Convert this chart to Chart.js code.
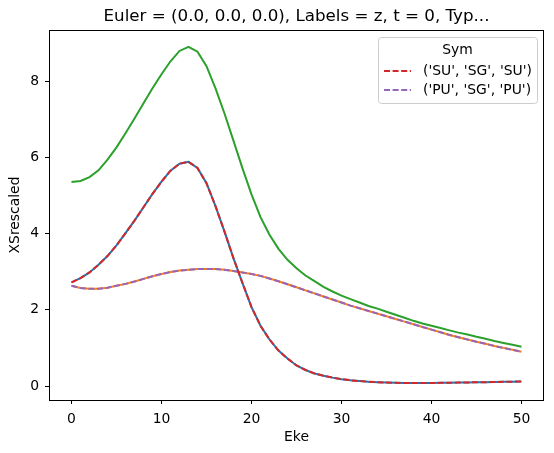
<!DOCTYPE html>
<html>
<head>
<meta charset="utf-8">
<script src="https://cdn.jsdelivr.net/npm/chart.js@4.4.0/dist/chart.umd.min.js"></script>
<style>
  html, body { margin: 0; padding: 0; background: #fff; }
  #wrap { width: 554px; height: 453px; }
</style>
</head>
<body>
<div id="wrap"><canvas id="chart"></canvas></div>
<script>
const eke = [0, 1, 2, 3, 4, 5, 6, 7, 8, 9, 10, 11, 12, 13, 14, 15, 16, 17, 18, 19, 20,
    21, 22, 23, 24, 25, 26, 27, 28, 29, 30, 31, 32, 33, 34, 35, 36, 37, 38, 39, 40,
    41, 42, 43, 44, 45, 46, 47, 48, 49, 50];

// green solid line
const xsTotal = [5.35, 5.38, 5.48, 5.66, 5.94, 6.26, 6.63, 7.02, 7.42, 7.81, 8.18,
    8.52, 8.79, 8.90, 8.77, 8.39, 7.81, 7.15, 6.43, 5.71, 5.03,
    4.43, 3.97, 3.60, 3.31, 3.09, 2.90, 2.75, 2.60, 2.48, 2.37,
    2.28, 2.19, 2.10, 2.03, 1.95, 1.87, 1.79, 1.71, 1.64, 1.58,
    1.52, 1.46, 1.40, 1.35, 1.29, 1.24, 1.18, 1.13, 1.08, 1.03];

// ('SU', 'SG', 'SU') - red dashed, blue solid underneath
const xsSU = [2.72, 2.83, 2.98, 3.18, 3.41, 3.69, 4.01, 4.34, 4.69, 5.04, 5.36,
    5.65, 5.83, 5.88, 5.72, 5.32, 4.72, 4.05, 3.35, 2.70, 2.07,
    1.58, 1.22, 0.93, 0.72, 0.54, 0.42, 0.33, 0.27, 0.22, 0.18,
    0.15, 0.13, 0.11, 0.10, 0.09, 0.085, 0.08, 0.078, 0.078, 0.08,
    0.083, 0.086, 0.09, 0.094, 0.098, 0.10, 0.105, 0.11, 0.115, 0.12];
const xsSUBase = [2.72, 2.83, 2.98, 3.18, 3.41, 3.69, 4.01, 4.34, 4.69, 5.04, 5.36,
    5.65, 5.83, 5.88, 5.72, 5.32, 4.72, 4.05, 3.35, 2.70, 2.07,
    1.58, 1.22, 0.93, 0.72, 0.54, 0.42, 0.33, 0.27, 0.22, 0.18,
    0.15, 0.13, 0.11, 0.10, 0.09, 0.085, 0.08, 0.078, 0.078, 0.08,
    0.083, 0.086, 0.09, 0.094, 0.098, 0.10, 0.105, 0.11, 0.115, 0.12];

// ('PU', 'SG', 'PU') - purple dashed, orange solid underneath
const xsPU = [2.63, 2.57, 2.55, 2.55, 2.58, 2.63, 2.68, 2.74, 2.81, 2.88, 2.94,
    2.99, 3.03, 3.05, 3.07, 3.07, 3.07, 3.05, 3.02, 2.98, 2.94,
    2.89, 2.82, 2.75, 2.67, 2.59, 2.51, 2.43, 2.35, 2.27, 2.19,
    2.11, 2.04, 1.97, 1.90, 1.83, 1.76, 1.69, 1.62, 1.55, 1.48,
    1.41, 1.34, 1.28, 1.22, 1.16, 1.11, 1.05, 1.00, 0.95, 0.90];
const xsPUBase = [2.63, 2.57, 2.55, 2.55, 2.58, 2.63, 2.68, 2.74, 2.81, 2.88, 2.94,
    2.99, 3.03, 3.05, 3.07, 3.07, 3.07, 3.05, 3.02, 2.98, 2.94,
    2.89, 2.82, 2.75, 2.67, 2.59, 2.51, 2.43, 2.35, 2.27, 2.19,
    2.11, 2.04, 1.97, 1.90, 1.83, 1.76, 1.69, 1.62, 1.55, 1.48,
    1.41, 1.34, 1.28, 1.22, 1.16, 1.11, 1.05, 1.00, 0.95, 0.90];

const xTicks = [0, 10, 20, 30, 40, 50];
const yTicks = [0, 2, 4, 6, 8];
const legendLabels = ["('SU', 'SG', 'SU')", "('PU', 'SG', 'PU')"];
const chartTitle = 'Euler = (0.0, 0.0, 0.0), Labels = z, t = 0, Typ...';

const FONT = 'DejaVu Sans';
const FS = 13.9;

function toPoints(ys) {
    return ys.map((y, i) => ({ x: eke[i], y: y }));
}

function line(label, ys, color, dashed, order) {
    return {
        label: label,
        data: toPoints(ys),
        borderColor: color,
        borderWidth: 2,
        borderDash: dashed ? [6, 2.6] : [],
        pointRadius: 0,
        fill: false,
        tension: 0,
        order: order
    };
}

// title over the axes, box around the plot area, legend inside it
const framePlugin = {
    id: 'frame',
    afterDraw(chart) {
        const ctx = chart.ctx;
        const a = chart.chartArea;
        ctx.save();

        ctx.fillStyle = '#000';
        ctx.font = '16.7px ' + FONT;
        ctx.textAlign = 'center';
        ctx.textBaseline = 'middle';
        ctx.fillText(chartTitle, (a.left + a.right) / 2, 17);

        ctx.strokeStyle = '#000';
        ctx.lineWidth = 1;
        ctx.strokeRect(Math.round(a.left) + 0.5, Math.round(a.top) + 0.5,
            Math.round(a.right - a.left) - 1, Math.round(a.bottom - a.top));

        // legend
        const w = 159, h = 66;
        const x0 = a.right - 7 - w, y0 = a.top + 7;
        ctx.globalAlpha = 0.8;
        ctx.fillStyle = '#fff';
        ctx.beginPath();
        ctx.roundRect(x0 + 0.5, y0 + 0.5, w, h, 3);
        ctx.fill();
        ctx.globalAlpha = 1;
        ctx.strokeStyle = '#cccccc';
        ctx.stroke();

        ctx.fillStyle = '#000';
        ctx.font = FS + 'px ' + FONT;
        ctx.fillText('Sym', x0 + w / 2, y0 + 13);

        const colors = ['#d62728', '#9467bd'];
        ctx.textAlign = 'left';
        legendLabels.forEach((lab, k) => {
            const yy = y0 + 34 + k * 19;
            ctx.strokeStyle = colors[k];
            ctx.lineWidth = 2;
            ctx.setLineDash([6, 2.6]);
            ctx.beginPath();
            ctx.moveTo(x0 + 6, yy);
            ctx.lineTo(x0 + 33, yy);
            ctx.stroke();
            ctx.setLineDash([]);
            ctx.fillText(lab, x0 + 45, yy);
        });
        ctx.restore();
    }
};

new Chart(document.getElementById('chart'), {
    type: 'line',
    data: {
        datasets: [
            line('blue', xsSUBase, '#1f77b4', false, 2),
            line('orange', xsPUBase, '#ff7f0e', false, 2),
            line('green', xsTotal, '#2ca02c', false, 1),
            line(legendLabels[0], xsSU, '#d62728', true, 0),
            line(legendLabels[1], xsPU, '#9467bd', true, 0)
        ]
    },
    options: {
        responsive: true,
        maintainAspectRatio: false,
        animation: false,
        layout: { padding: { left: 0, right: 10, top: 30, bottom: 0 } },
        plugins: {
            legend: { display: false },
            tooltip: { enabled: false },
            title: { display: false }
        },
        scales: {
            x: {
                type: 'linear',
                min: -2.5,
                max: 52.5,
                afterBuildTicks: s => { s.ticks = xTicks.map(v => ({ value: v })); },
                afterFit: s => { s.height = 53; },
                border: { display: false },
                grid: { drawOnChartArea: false, drawTicks: true, tickLength: 4, color: '#000' },
                ticks: { color: '#000', padding: 7, font: { family: FONT, size: FS } },
                title: {
                    display: true, text: 'Eke', color: '#000',
                    font: { family: FONT, size: FS },
                    padding: { top: 0, bottom: 7 }
                }
            },
            y: {
                type: 'linear',
                min: -0.367,
                max: 9.34,
                afterBuildTicks: s => { s.ticks = yTicks.map(v => ({ value: v })); },
                afterFit: s => { s.width = 49; },
                border: { display: false },
                grid: { drawOnChartArea: false, drawTicks: true, tickLength: 4, color: '#000' },
                ticks: { color: '#000', padding: 6, font: { family: FONT, size: FS } },
                title: {
                    display: true, text: 'XSrescaled', color: '#000',
                    font: { family: FONT, size: FS },
                    padding: { top: 7, bottom: 0 }
                }
            }
        }
    },
    plugins: [framePlugin]
});
</script>
</body>
</html>
